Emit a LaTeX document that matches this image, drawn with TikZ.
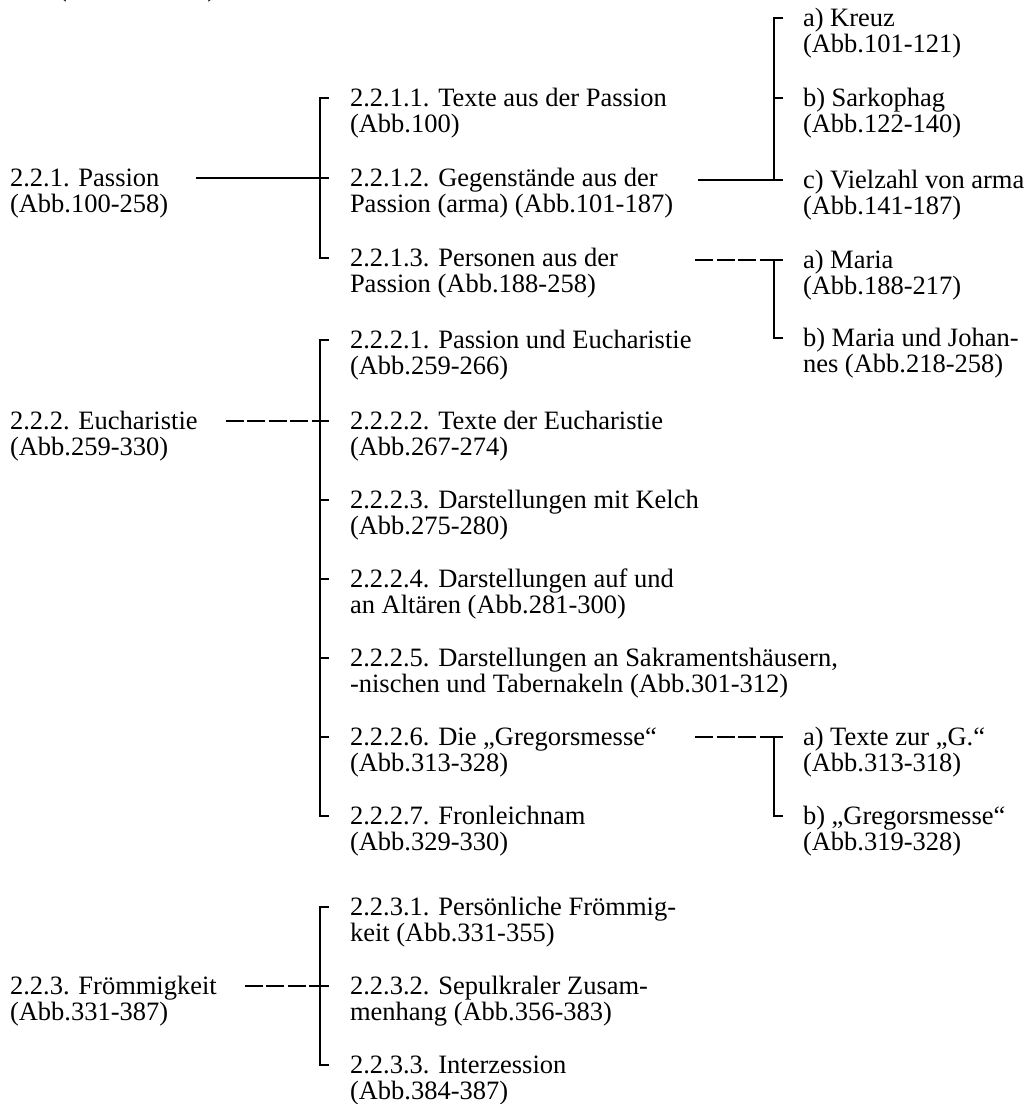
\documentclass[tikz,border=0pt]{standalone}
\usepackage{fontspec}
\setmainfont{Liberation Serif}
\newcommand{\twoline}[2]{\begin{tabular}[t]{@{}l@{}}#1\\#2\end{tabular}}
\begin{document}
\begin{tikzpicture}[x=1pt,y=-1pt,
  txt/.style={anchor=base west, inner sep=0pt, outer sep=0pt, font=\fontsize{26.5}{26.33}\selectfont},
  ln/.style={line width=1.3pt, line cap=butt},
  dl/.style={ln, dash pattern=on 18pt off 3.5pt}]
\useasboundingbox (0,0) rectangle (1034,1104);

% cut-off text at the top
\node[txt] (top) at (58,-3.5) {(Abb.100-387)};

% left column
\node[txt] (p) at (10,186) {\twoline{2.2.1. Passion}{(Abb.100-258)}};
\node[txt] (e) at (10,429) {\twoline{2.2.2. Eucharistie}{(Abb.259-330)}};
\node[txt] (f) at (10,994) {\twoline{2.2.3. Frömmigkeit}{(Abb.331-387)}};

% middle column
\node[txt] (m211) at (350,106)  {\twoline{2.2.1.1. Texte aus der Passion}{(Abb.100)}};
\node[txt] (m212) at (350,186)  {\twoline{2.2.1.2. Gegenstände aus der}{Passion (arma) (Abb.101-187)}};
\node[txt] (m213) at (350,266)  {\twoline{2.2.1.3. Personen aus der}{Passion (Abb.188-258)}};
\node[txt] (m221) at (350,348)  {\twoline{2.2.2.1. Passion und Eucharistie}{(Abb.259-266)}};
\node[txt] (m222) at (350,429)  {\twoline{2.2.2.2. Texte der Eucharistie}{(Abb.267-274)}};
\node[txt] (m223) at (350,508)  {\twoline{2.2.2.3. Darstellungen mit Kelch}{(Abb.275-280)}};
\node[txt] (m224) at (350,587)  {\twoline{2.2.2.4. Darstellungen auf und}{an Altären (Abb.281-300)}};
\node[txt] (m225) at (350,666)  {\twoline{2.2.2.5. Darstellungen an Sakramentshäusern,}{-nischen und Tabernakeln (Abb.301-312)}};
\node[txt] (m226) at (350,745)  {\twoline{2.2.2.6. Die „Gregorsmesse“}{(Abb.313-328)}};
\node[txt] (m227) at (350,824)  {\twoline{2.2.2.7. Fronleichnam}{(Abb.329-330)}};
\node[txt] (m231) at (350,915)  {\twoline{2.2.3.1. Persönliche Frömmig-}{keit (Abb.331-355)}};
\node[txt] (m232) at (350,994)  {\twoline{2.2.3.2. Sepulkraler Zusam-}{menhang (Abb.356-383)}};
\node[txt] (m233) at (350,1073) {\twoline{2.2.3.3. Interzession}{(Abb.384-387)}};

% right column
\node[txt] (ra)  at (803,26)  {\twoline{a) Kreuz}{(Abb.101-121)}};
\node[txt] (rb)  at (803,106) {\twoline{b) Sarkophag}{(Abb.122-140)}};
\node[txt] (rc)  at (803,188) {\twoline{c) Vielzahl von arma}{(Abb.141-187)}};
\node[txt] (rma) at (803,268) {\twoline{a) Maria}{(Abb.188-217)}};
\node[txt] (rmj) at (803,346) {\twoline{b) Maria und Johan-}{nes (Abb.218-258)}};
\node[txt] (rga) at (803,745) {\twoline{a) Texte zur „G.“}{(Abb.313-318)}};
\node[txt] (rgb) at (803,824) {\twoline{b) „Gregorsmesse“}{(Abb.319-328)}};

% bracket points, middle column
\coordinate (tP1) at (320,98);
\coordinate (jP)  at (320,178);
\coordinate (tP3) at (320,258);
\coordinate (tE1) at (320,340);
\coordinate (jE)  at (320,421);
\coordinate (tE3) at (320,500);
\coordinate (tE4) at (320,579);
\coordinate (tE5) at (320,658);
\coordinate (tE6) at (320,737);
\coordinate (tE7) at (320,816);
\coordinate (tF1) at (320,907);
\coordinate (jF)  at (320,986);
\coordinate (tF3) at (320,1065);

% bracket points, right column
\coordinate (tK1) at (774,18);
\coordinate (tK2) at (774,98);
\coordinate (jK)  at (774,180);
\coordinate (sK)  at (698,180);
\coordinate (jM)  at (774,260);
\coordinate (sM)  at (695,260);
\coordinate (tM2) at (774,338);
\coordinate (jG)  at (774,737);
\coordinate (sG)  at (695,737);
\coordinate (tG2) at (774,816);

% Passion
\draw[ln] ([xshift=28pt]p.east |- jP) -- (jP) -- ++(9,0);
\draw[ln] ([xshift=9pt]tP1) -- (tP1) -- (tP3) -- ++(9,0);

% Eucharistie
\draw[dl] ([xshift=28pt]e.east |- jE) -- (jE);
\draw[ln] (jE) -- ++(9,0);
\draw[ln] ([xshift=9pt]tE1) -- (tE1) -- (tE7) -- ++(9,0);
\foreach \t in {tE3,tE4,tE5,tE6} \draw[ln] (\t) -- ++(9,0);

% Frömmigkeit
\draw[dl] ([xshift=28pt]f.east |- jF) -- (jF);
\draw[ln] (jF) -- ++(9,0);
\draw[ln] ([xshift=9pt]tF1) -- (tF1) -- (tF3) -- ++(9,0);

% Gegenstände -> a/b/c
\draw[ln] (sK) -- (jK) -- ++(9,0);
\draw[ln] ([xshift=9pt]tK1) -- (tK1) -- (jK);
\draw[ln] (tK2) -- ++(9,0);

% Personen -> Maria
\draw[dl] (sM) -- (jM);
\draw[ln] (jM) -- ++(9,0);
\draw[ln] (jM) -- (tM2) -- ++(9,0);

% Gregorsmesse
\draw[dl] (sG) -- (jG);
\draw[ln] (jG) -- ++(9,0);
\draw[ln] (jG) -- (tG2) -- ++(9,0);
\end{tikzpicture}
\end{document}
